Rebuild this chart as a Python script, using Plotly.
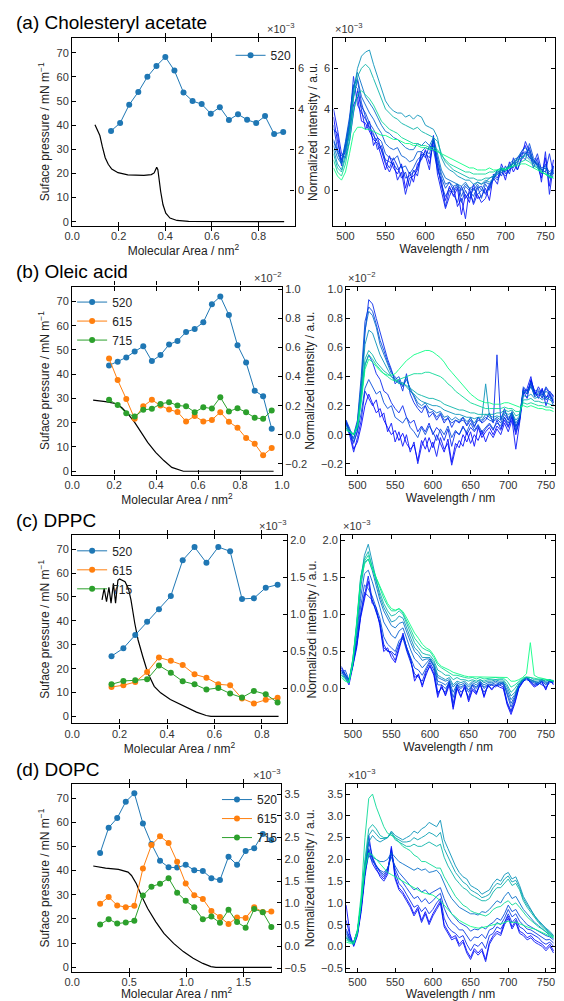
import plotly.graph_objects as go

# ---------------- data ----------------
# (a) Cholesteryl acetate
A_AREA = [0.167, 0.206, 0.245, 0.284, 0.323, 0.362, 0.400, 0.439, 0.478, 0.517,
          0.556, 0.595, 0.634, 0.673, 0.712, 0.751, 0.790, 0.828, 0.867, 0.906]
A_520 = [2.92, 3.31, 4.21, 4.84, 5.58, 6.12, 6.56, 5.89, 4.81, 4.39,
         4.24, 3.77, 4.09, 3.46, 3.74, 3.47, 3.31, 3.65, 2.77, 2.87]
ISO_A_AREA = [0.098, 0.11, 0.119, 0.13, 0.142, 0.155, 0.17, 0.197, 0.239, 0.308, 0.34, 0.352,
              0.358, 0.363, 0.368, 0.373, 0.38, 0.39, 0.402, 0.42, 0.45, 0.5, 0.6, 0.91]
ISO_A_PI = [40.2, 37.5, 35.7, 31.0, 26.5, 23.8, 21.8, 20.3, 19.4, 19.2, 19.5, 20.2,
            21.5, 22.6, 21.5, 17.5, 12.5, 7.0, 3.5, 1.5, 0.5, 0.1, 0.0, 0.0]

# (b) Oleic acid
B_AREA = [0.176, 0.217, 0.258, 0.298, 0.339, 0.380, 0.421, 0.462, 0.502, 0.543,
          0.584, 0.625, 0.666, 0.706, 0.747, 0.788, 0.829, 0.870, 0.910, 0.951]
B_520 = [0.477, 0.502, 0.532, 0.573, 0.609, 0.507, 0.548, 0.621, 0.646, 0.707,
         0.728, 0.774, 0.899, 0.952, 0.824, 0.616, 0.497, 0.303, 0.265, 0.041]
B_615 = [0.524, 0.376, 0.246, 0.109, 0.196, 0.240, 0.201, 0.173, 0.157, 0.091,
         0.128, 0.091, 0.102, 0.155, 0.089, 0.048, -0.023, -0.062, -0.142, -0.092]
B_715 = [0.240, 0.205, 0.148, 0.125, 0.171, 0.178, 0.212, 0.224, 0.201, 0.196,
         0.155, 0.189, 0.180, 0.258, 0.160, 0.182, 0.155, 0.116, 0.109, 0.166]
ISO_B_AREA = [0.1, 0.159, 0.205, 0.236, 0.267, 0.298, 0.329, 0.36, 0.398, 0.437, 0.475, 0.514, 0.53, 0.96]
ISO_B_PI = [29.3, 28.7, 27.9, 26.3, 23.5, 20.1, 16.0, 11.9, 7.8, 4.4, 1.6, 0.3, 0.0, 0.0]

# (c) DPPC
C_AREA = [0.166, 0.216, 0.266, 0.316, 0.366, 0.416, 0.466, 0.516, 0.566, 0.616,
          0.666, 0.716, 0.766, 0.816, 0.866]
C_520 = [0.438, 0.545, 0.724, 0.903, 1.072, 1.251, 1.734, 1.912, 1.698, 1.912,
         1.854, 1.211, 1.220, 1.363, 1.403]
C_615 = [0.022, 0.045, 0.089, 0.223, 0.420, 0.375, 0.317, 0.192, 0.147, 0.058,
         0.045, -0.134, -0.201, -0.152, -0.125]
C_715 = [0.058, 0.103, 0.112, 0.125, 0.313, 0.214, 0.098, 0.058, -0.013, 0.009,
         -0.067, -0.121, -0.031, -0.076, -0.188]
ISO_C_AREA = [0.126, 0.135, 0.145, 0.155, 0.164, 0.174, 0.183, 0.193, 0.2, 0.223, 0.237, 0.248,
              0.264, 0.278, 0.298, 0.319, 0.346, 0.373, 0.414, 0.469, 0.524, 0.565, 0.585, 0.87]
ISO_C_PI = [48.8, 53.6, 48.0, 54.0, 47.4, 55.7, 47.4, 57.0, 57.5, 56.4, 53.6, 48.8,
            39.0, 32.0, 25.0, 18.2, 12.6, 9.9, 7.1, 4.3, 1.8, 0.4, 0.0, 0.0]

# (d) DOPC
D_AREA = [0.245, 0.32, 0.395, 0.47, 0.545, 0.62, 0.695, 0.77, 0.845, 0.92, 0.995,
          1.07, 1.145, 1.22, 1.295, 1.37, 1.445, 1.52, 1.595, 1.67, 1.745]
D_520 = [2.145, 2.728, 2.949, 3.326, 3.520, 2.827, 2.356, 1.968, 1.818, 1.812, 1.874,
         1.752, 1.735, 1.569, 1.524, 2.062, 1.874, 2.195, 2.256, 2.583, 2.445]
D_615 = [0.981, 1.136, 0.942, 0.903, 0.937, 1.790, 2.328, 2.533, 2.378, 1.946, 1.447,
         1.175, 1.092, 0.815, 0.676, 0.515, 0.665, 0.654, 0.898, 0.792, 0.803]
D_715 = [0.504, 0.626, 0.526, 0.549, 0.593, 1.170, 1.374, 1.441, 1.569, 1.236, 1.047,
         0.898, 0.626, 0.687, 0.543, 0.842, 0.560, 0.432, 0.859, 0.787, 0.449]
ISO_D_AREA = [0.185, 0.293, 0.406, 0.49, 0.52, 0.563, 0.605, 0.662, 0.733, 0.804, 0.889,
              0.974, 1.06, 1.145, 1.216, 1.26, 1.75]
ISO_D_PI = [41.9, 41.0, 40.5, 39.4, 38.0, 34.6, 29.8, 24.3, 18.8, 14.0, 9.9,
            6.5, 3.7, 1.6, 0.3, 0.0, 0.0]

# spectra: wavelength grid (nm)
WL = [485, 490, 495, 500, 505, 510, 515, 520, 525, 530,
      535, 540, 545, 550, 555, 560, 565, 570, 575, 580,
      585, 590, 595, 600, 605, 610, 615, 620, 625, 630,
      635, 640, 645, 650, 655, 660, 665, 670, 675, 680,
      685, 690, 695, 700, 705, 710, 715, 720, 725, 730,
      735, 740, 745, 750, 755, 760]

# colour position of each spectrum on the blue->green scale, per panel
SPEC_A_T = [0.0, 0.14, 0.28, 0.42, 0.56, 0.7, 0.85, 1.0, 0.07, 0.21, 0.35]
SPEC_B_T = [0.0, 0.14, 0.28, 0.42, 0.56, 0.7, 0.85, 1.0, 0.05, 0.25, 0.12]
SPEC_C_T = [0.0, 0.14, 0.28, 0.42, 0.56, 0.7, 0.85, 1.0, 0.07, 0.36]
SPEC_D_T = [0.0, 0.14, 0.28, 0.42, 0.56, 0.7, 0.85, 1.0, 0.07, 0.22, 0.62]

SPEC_A = [
    [3.6, 2.4, 1.5, 1.9, 2.8, 4.2, 4.6, 3.4, 3.3, 2.9,
     2.5, 2.3, 1.6, 1.0, 1.7, 1.1, 0.8, 1.3, 0.1, 0.9,
     0.4, 1.3, 1.5, 2.0, 1.3, 2.4, 1.3, 0.2, -0.5, 0.2,
     -0.3, 0.1, -1.2, -0.2, -0.6, 0.3, -0.4, -0.3, 0.1, -0.5,
     0.8, 0.6, 1.1, 0.5, 1.4, 0.9, 1.3, 1.9, 2.2, 1.6,
     1.5, 1.2, 0.6, 1.6, 0.2, 1.5],
    [3.0, 2.8, 1.2, 2.2, 3.2, 5.6, 4.2, 3.8, 3.5, 3.1,
     2.8, 2.0, 2.2, 1.4, 1.1, 1.6, 1.2, 0.6, 0.9, 0.2,
     1.0, 0.7, 1.8, 1.6, 2.2, 2.0, 1.0, 0.5, -0.8, 0.0,
     -0.2, -0.6, 0.2, -0.4, -0.1, -0.6, 0.1, 0.2, -0.2, 0.3,
     0.5, 1.0, 0.7, 1.2, 0.8, 1.6, 1.0, 1.5, 1.8, 2.1,
     1.3, 1.8, 1.0, 0.9, 1.8, 0.8],
    [2.5, 1.9, 1.4, 2.4, 3.6, 5.2, 5.0, 4.1, 3.8, 3.3,
     3.0, 2.6, 2.4, 1.8, 1.6, 1.5, 1.7, 1.1, 1.2, 0.8,
     1.1, 1.5, 1.7, 1.9, 1.8, 2.5, 1.5, 0.6, 0.1, 0.4,
     0.0, 0.3, -0.3, 0.2, 0.0, -0.3, 0.2, -0.4, 0.3, 0.0,
     0.6, 0.8, 1.0, 0.9, 1.2, 1.1, 1.6, 1.7, 1.5, 2.3,
     1.6, 1.4, 1.1, 1.2, 0.9, 1.1],
    [2.2, 1.6, 1.3, 2.2, 3.3, 5.0, 5.8, 5.2, 4.6, 4.3,
     4.0, 3.6, 3.2, 2.9, 2.8, 2.6, 2.5, 2.3, 2.1, 2.0,
     2.0, 2.3, 2.2, 2.4, 2.2, 2.6, 1.8, 1.0, 0.6, 0.5,
     0.4, 0.3, 0.2, 0.4, 0.1, 0.2, 0.4, 0.3, 0.4, 0.6,
     0.7, 1.0, 1.1, 1.0, 1.3, 1.5, 1.6, 1.9, 2.1, 1.8,
     1.5, 1.3, 1.0, 1.1, 0.8, 0.9],
    [2.0, 1.3, 1.0, 1.8, 3.0, 4.8, 6.0, 6.6, 6.8, 6.9,
     6.2, 5.6, 5.0, 4.4, 4.1, 3.9, 3.8, 3.8, 3.6, 3.7,
     3.5, 3.7, 3.6, 3.2, 3.1, 3.0, 2.6, 1.6, 1.2, 1.0,
     0.9, 0.7, 0.6, 0.5, 0.5, 0.3, 0.4, 0.3, 0.5, 0.4,
     0.6, 0.8, 0.9, 1.0, 1.1, 1.4, 1.5, 1.6, 1.8, 1.7,
     1.4, 1.2, 1.0, 0.9, 0.7, 0.8],
    [1.8, 1.1, 0.9, 1.6, 2.8, 4.5, 5.6, 6.0, 6.2, 6.0,
     5.5, 5.0, 4.4, 4.0, 3.8, 3.6, 3.5, 3.3, 3.2, 3.1,
     3.0, 3.1, 2.9, 2.8, 2.7, 2.6, 2.4, 1.8, 1.4, 1.2,
     1.0, 0.9, 0.8, 0.7, 0.6, 0.6, 0.5, 0.5, 0.6, 0.6,
     0.7, 0.9, 1.0, 1.0, 1.2, 1.3, 1.4, 1.6, 1.7, 1.5,
     1.3, 1.1, 0.9, 0.8, 0.6, 0.7],
    [1.5, 0.9, 0.7, 1.3, 2.4, 3.9, 4.7, 4.9, 4.7, 4.5,
     4.2, 3.8, 3.4, 3.2, 3.0, 2.9, 2.8, 2.6, 2.5, 2.4,
     2.3, 2.3, 2.2, 2.2, 2.1, 2.1, 2.0, 1.7, 1.5, 1.3,
     1.2, 1.1, 1.0, 0.9, 0.9, 0.8, 0.8, 0.8, 0.8, 0.9,
     0.9, 1.0, 1.0, 1.1, 1.1, 1.2, 1.3, 1.4, 1.5, 1.4,
     1.2, 1.1, 0.9, 0.8, 0.7, 0.6],
    [1.1, 0.7, 0.5, 0.9, 1.8, 2.8, 3.1, 3.1, 3.0, 3.0,
     2.9, 2.8, 2.7, 2.7, 2.6, 2.5, 2.5, 2.4, 2.3, 2.3,
     2.2, 2.2, 2.1, 2.1, 2.0, 2.0, 1.9, 1.8, 1.7, 1.6,
     1.5, 1.4, 1.3, 1.2, 1.1, 1.1, 1.0, 1.0, 1.0, 1.1,
     1.0, 1.0, 1.1, 1.0, 1.1, 1.2, 1.2, 1.3, 1.3, 1.2,
     1.1, 1.0, 0.9, 0.8, 0.7, 0.6],
    [4.0, 3.0, 1.8, 1.6, 2.4, 3.8, 4.9, 4.0, 3.0, 3.4,
     2.2, 2.6, 1.9, 1.3, 0.9, 1.4, 0.5, 0.9, -0.2, 0.6,
     0.7, 1.0, 1.9, 1.7, 1.0, 2.7, 0.8, -0.1, -0.9, -0.3,
     0.2, -0.8, -0.4, -1.4, 0.1, -0.7, -0.2, -0.6, -0.4, 0.2,
     0.6, 0.3, 1.3, 0.8, 1.0, 1.4, 1.0, 1.6, 2.4, 1.9,
     1.1, 1.6, 0.4, 1.9, -0.2, 1.2],
    [3.2, 2.0, 1.7, 2.0, 3.0, 4.6, 5.4, 4.3, 3.6, 3.0,
     2.7, 2.4, 2.0, 1.5, 1.4, 1.3, 1.0, 1.2, 0.6, 0.7,
     0.9, 1.1, 1.6, 1.8, 1.6, 2.2, 1.2, 0.3, -0.3, 0.1,
     -0.1, 0.2, -0.6, 0.0, -0.4, 0.1, -0.2, 0.0, -0.1, 0.1,
     0.7, 0.5, 0.9, 0.7, 1.0, 1.2, 1.4, 1.8, 1.9, 1.6,
     1.4, 1.3, 0.8, 1.3, 0.6, 1.2],
    [2.4, 1.8, 1.3, 2.3, 3.4, 5.1, 5.5, 4.6, 4.2, 3.8,
     3.5, 3.1, 2.8, 2.3, 2.1, 2.0, 2.1, 1.7, 1.6, 1.4,
     1.5, 1.9, 1.9, 2.1, 2.0, 2.5, 1.6, 0.8, 0.3, 0.4,
     0.2, 0.3, 0.0, 0.3, 0.1, 0.0, 0.3, 0.0, 0.4, 0.3,
     0.6, 0.9, 1.0, 1.0, 1.2, 1.3, 1.6, 1.8, 1.8, 2.0,
     1.5, 1.3, 1.0, 1.1, 0.8, 1.0],
]

SPEC_B = [
    [0.08, 0.02, -0.10, -0.05, 0.06, 0.20, 0.28, 0.22, 0.15, 0.18,
     0.10, 0.05, 0.00, 0.03, -0.04, 0.01, -0.06, -0.10, -0.07, -0.18,
     -0.04, -0.10, -0.02, -0.09, 0.00, -0.06, -0.12, -0.03, -0.19, -0.06,
     -0.09, 0.00, -0.05, 0.02, -0.08, 0.05, -0.02, 0.02, 0.05, 0.00,
     0.06, 0.03, 0.10, 0.05, 0.12, 0.00, 0.10, 0.30, 0.25, 0.38,
     0.30, 0.25, 0.32, 0.20, 0.28, 0.22],
    [0.05, 0.00, -0.02, 0.05, 0.30, 0.70, 0.93, 0.90, 0.80, 0.70,
     0.60, 0.52, 0.45, 0.35, 0.38, 0.30, 0.42, 0.28, 0.22, 0.18,
     0.15, 0.20, 0.12, 0.15, 0.10, 0.14, 0.08, 0.12, 0.05, 0.10,
     0.08, 0.12, 0.06, 0.10, 0.05, 0.12, 0.08, 0.10, 0.15, 0.08,
     0.55, 0.10, 0.18, 0.10, 0.15, 0.05, 0.12, 0.32, 0.30, 0.35,
     0.28, 0.30, 0.25, 0.32, 0.28, 0.25],
    [0.10, 0.04, -0.05, 0.02, 0.15, 0.32, 0.38, 0.33, 0.28, 0.30,
     0.22, 0.18, 0.20, 0.12, 0.10, 0.08, 0.12, 0.05, 0.02, -0.02,
     0.05, 0.00, 0.06, 0.02, -0.04, 0.04, 0.00, 0.06, -0.02, 0.03,
     0.00, 0.05, 0.02, 0.08, 0.03, 0.07, 0.02, 0.05, 0.08, 0.04,
     0.08, 0.06, 0.12, 0.08, 0.14, 0.03, 0.12, 0.30, 0.28, 0.34,
     0.26, 0.28, 0.30, 0.24, 0.26, 0.20],
    [0.07, 0.02, -0.03, 0.08, 0.35, 0.72, 0.85, 0.82, 0.74, 0.62,
     0.55, 0.48, 0.42, 0.40, 0.36, 0.34, 0.40, 0.30, 0.27, 0.22,
     0.20, 0.22, 0.18, 0.17, 0.15, 0.16, 0.12, 0.13, 0.10, 0.12,
     0.10, 0.12, 0.09, 0.11, 0.08, 0.12, 0.10, 0.14, 0.12, 0.10,
     0.12, 0.10, 0.16, 0.12, 0.14, 0.08, 0.12, 0.30, 0.28, 0.33,
     0.27, 0.29, 0.26, 0.30, 0.27, 0.24],
    [0.06, 0.03, 0.00, 0.08, 0.32, 0.62, 0.72, 0.70, 0.62, 0.55,
     0.50, 0.45, 0.40, 0.38, 0.35, 0.36, 0.33, 0.30, 0.28, 0.25,
     0.23, 0.22, 0.21, 0.20, 0.20, 0.19, 0.17, 0.16, 0.15, 0.14,
     0.14, 0.13, 0.12, 0.12, 0.11, 0.12, 0.12, 0.35, 0.13, 0.12,
     0.13, 0.12, 0.15, 0.14, 0.15, 0.10, 0.13, 0.27, 0.26, 0.28,
     0.25, 0.26, 0.24, 0.26, 0.24, 0.22],
    [0.05, 0.02, 0.00, 0.07, 0.28, 0.52, 0.58, 0.55, 0.50, 0.47,
     0.44, 0.42, 0.40, 0.37, 0.36, 0.35, 0.34, 0.32, 0.30, 0.28,
     0.27, 0.26, 0.25, 0.25, 0.24, 0.23, 0.21, 0.20, 0.19, 0.18,
     0.17, 0.17, 0.16, 0.15, 0.15, 0.14, 0.14, 0.14, 0.14, 0.14,
     0.15, 0.15, 0.17, 0.16, 0.17, 0.13, 0.14, 0.24, 0.24, 0.25,
     0.23, 0.23, 0.22, 0.22, 0.21, 0.20],
    [0.04, 0.02, 0.00, 0.06, 0.25, 0.48, 0.55, 0.52, 0.48, 0.45,
     0.42, 0.40, 0.38, 0.37, 0.38, 0.39, 0.40, 0.41, 0.42, 0.42,
     0.42, 0.43, 0.43, 0.42, 0.41, 0.40, 0.38, 0.35, 0.33, 0.30,
     0.28, 0.26, 0.24, 0.22, 0.21, 0.20, 0.19, 0.18, 0.18, 0.18,
     0.18, 0.18, 0.19, 0.18, 0.18, 0.16, 0.16, 0.22, 0.21, 0.22,
     0.21, 0.20, 0.20, 0.19, 0.19, 0.18],
    [0.03, 0.02, 0.00, 0.05, 0.22, 0.45, 0.52, 0.50, 0.47, 0.44,
     0.42, 0.41, 0.41, 0.42, 0.45, 0.48, 0.51, 0.53, 0.55, 0.56,
     0.57, 0.58, 0.58, 0.57, 0.55, 0.53, 0.50, 0.46, 0.43, 0.40,
     0.37, 0.34, 0.31, 0.28, 0.26, 0.24, 0.23, 0.22, 0.22, 0.21,
     0.21, 0.21, 0.22, 0.22, 0.21, 0.20, 0.19, 0.20, 0.19, 0.20,
     0.19, 0.18, 0.18, 0.17, 0.17, 0.16],
    [0.10, 0.00, -0.12, -0.02, 0.10, 0.30, 0.25, 0.20, 0.24, 0.12,
     0.15, 0.02, 0.08, -0.05, 0.02, -0.08, 0.00, -0.12, -0.05, -0.20,
     -0.08, -0.02, -0.12, -0.05, -0.15, -0.02, -0.10, -0.06, -0.21, -0.10,
     -0.04, -0.08, 0.02, -0.06, 0.00, -0.04, 0.03, -0.05, 0.02, -0.02,
     0.04, 0.00, 0.08, 0.02, 0.10, -0.10, 0.08, 0.28, 0.32, 0.40,
     0.27, 0.33, 0.28, 0.25, 0.30, 0.26],
    [0.09, 0.03, 0.00, 0.10, 0.40, 0.78, 0.88, 0.85, 0.76, 0.65,
     0.58, 0.50, 0.44, 0.38, 0.40, 0.33, 0.38, 0.32, 0.25, 0.20,
     0.18, 0.20, 0.15, 0.16, 0.12, 0.15, 0.10, 0.11, 0.08, 0.10,
     0.09, 0.10, 0.07, 0.12, 0.06, 0.10, 0.09, 0.12, 0.10, 0.09,
     0.11, 0.08, 0.14, 0.10, 0.16, 0.06, 0.11, 0.33, 0.30, 0.36,
     0.30, 0.31, 0.27, 0.33, 0.29, 0.27],
    [0.08, 0.01, -0.06, 0.03, 0.25, 0.48, 0.55, 0.50, 0.42, 0.38,
     0.30, 0.28, 0.22, 0.18, 0.15, 0.20, 0.12, 0.08, 0.10, 0.02,
     0.06, 0.02, 0.08, 0.00, 0.05, 0.02, -0.04, 0.04, -0.08, 0.02,
     0.00, 0.06, 0.00, 0.05, 0.02, 0.06, 0.00, 0.04, 0.07, 0.03,
     0.10, 0.04, 0.12, 0.06, 0.13, 0.02, 0.10, 0.31, 0.29, 0.37,
     0.29, 0.27, 0.31, 0.26, 0.27, 0.23],
]

SPEC_C = [
    [0.25, 0.15, 0.05, 0.30, 0.55, 0.95, 1.20, 1.45, 1.15, 1.10,
     0.85, 0.50, 0.55, 0.42, 0.35, 0.55, 0.72, 0.55, 0.40, 0.10,
     0.20, 0.02, 0.22, 0.30, 0.18, -0.12, 0.05, -0.10, 0.05, -0.28,
     0.00, -0.12, 0.05, -0.18, -0.02, -0.08, 0.08, -0.12, 0.05, -0.02,
     0.05, 0.02, 0.00, -0.22, -0.35, -0.20, 0.00, 0.08, 0.15, 0.08,
     0.02, 0.05, 0.10, -0.02, 0.12, 0.05],
    [0.30, 0.20, 0.10, 0.35, 0.60, 1.00, 1.30, 1.25, 1.20, 1.05,
     0.90, 0.60, 0.50, 0.50, 0.45, 0.60, 0.68, 0.50, 0.35, 0.20,
     0.15, 0.10, 0.25, 0.35, 0.25, -0.05, 0.00, -0.05, 0.10, -0.20,
     0.05, -0.05, 0.00, -0.12, 0.05, -0.05, 0.05, -0.05, 0.02, 0.05,
     0.02, 0.08, 0.05, -0.18, -0.30, -0.15, 0.02, 0.10, 0.12, 0.10,
     0.05, 0.08, 0.05, 0.02, 0.08, 0.10],
    [0.20, 0.25, 0.12, 0.30, 0.65, 1.10, 1.40, 1.35, 1.25, 1.10,
     0.95, 0.70, 0.60, 0.55, 0.50, 0.65, 0.70, 0.55, 0.42, 0.28,
     0.25, 0.18, 0.28, 0.38, 0.30, 0.05, 0.05, 0.00, 0.08, -0.12,
     0.05, 0.00, 0.05, -0.05, 0.05, 0.00, 0.08, 0.00, 0.05, 0.05,
     0.05, 0.05, 0.08, -0.10, -0.25, -0.12, 0.05, 0.12, 0.15, 0.10,
     0.08, 0.05, 0.10, 0.05, 0.10, 0.08],
    [0.22, 0.18, 0.12, 0.35, 0.80, 1.35, 1.70, 1.75, 1.60, 1.40,
     1.20, 1.05, 0.95, 0.85, 0.82, 0.88, 0.90, 0.75, 0.62, 0.50,
     0.45, 0.38, 0.40, 0.40, 0.32, 0.15, 0.12, 0.10, 0.12, 0.02,
     0.08, 0.05, 0.08, 0.02, 0.08, 0.05, 0.10, 0.05, 0.08, 0.08,
     0.10, 0.08, 0.08, -0.02, -0.15, -0.08, 0.05, 0.10, 0.15, 0.12,
     0.10, 0.08, 0.12, 0.08, 0.10, 0.10],
    [0.20, 0.15, 0.10, 0.40, 0.85, 1.45, 1.80, 1.95, 1.70, 1.45,
     1.25, 1.10, 1.00, 0.90, 0.92, 0.98, 0.95, 0.80, 0.68, 0.55,
     0.50, 0.42, 0.42, 0.42, 0.35, 0.18, 0.15, 0.12, 0.15, 0.05,
     0.10, 0.08, 0.10, 0.05, 0.10, 0.08, 0.12, 0.08, 0.10, 0.10,
     0.12, 0.10, 0.10, 0.02, -0.10, -0.05, 0.05, 0.12, 0.15, 0.12,
     0.10, 0.10, 0.12, 0.10, 0.12, 0.10],
    [0.18, 0.15, 0.10, 0.40, 0.90, 1.50, 1.75, 1.85, 1.65, 1.45,
     1.30, 1.15, 1.05, 0.98, 1.00, 1.05, 1.00, 0.88, 0.75, 0.62,
     0.55, 0.48, 0.46, 0.45, 0.38, 0.25, 0.22, 0.18, 0.18, 0.12,
     0.15, 0.12, 0.12, 0.10, 0.12, 0.10, 0.12, 0.10, 0.12, 0.12,
     0.12, 0.12, 0.12, 0.05, -0.05, 0.00, 0.08, 0.12, 0.15, 0.15,
     0.12, 0.12, 0.12, 0.10, 0.12, 0.10],
    [0.18, 0.12, 0.08, 0.38, 0.88, 1.48, 1.72, 1.80, 1.65, 1.50,
     1.35, 1.22, 1.12, 1.05, 1.05, 1.08, 1.02, 0.92, 0.80, 0.68,
     0.62, 0.55, 0.52, 0.50, 0.42, 0.32, 0.28, 0.25, 0.22, 0.18,
     0.18, 0.16, 0.15, 0.14, 0.15, 0.13, 0.15, 0.13, 0.14, 0.14,
     0.15, 0.14, 0.14, 0.10, 0.02, 0.05, 0.10, 0.14, 0.16, 0.15,
     0.13, 0.13, 0.13, 0.12, 0.12, 0.11],
    [0.15, 0.10, 0.08, 0.35, 0.85, 1.42, 1.68, 1.75, 1.62, 1.50,
     1.38, 1.25, 1.15, 1.08, 1.06, 1.08, 1.04, 0.95, 0.85, 0.75,
     0.68, 0.60, 0.55, 0.52, 0.45, 0.35, 0.30, 0.28, 0.25, 0.22,
     0.20, 0.18, 0.17, 0.16, 0.16, 0.15, 0.16, 0.15, 0.16, 0.15,
     0.16, 0.15, 0.15, 0.15, 0.10, 0.10, 0.12, 0.15, 0.20, 0.62,
     0.18, 0.15, 0.14, 0.13, 0.12, 0.10],
    [0.28, 0.18, 0.08, 0.32, 0.58, 0.98, 1.25, 1.52, 1.20, 1.05,
     0.88, 0.55, 0.52, 0.48, 0.38, 0.58, 0.75, 0.52, 0.38, 0.15,
     0.18, 0.05, 0.20, 0.32, 0.20, -0.08, 0.02, -0.08, 0.08, -0.25,
     0.02, -0.10, 0.02, -0.15, 0.00, -0.06, 0.06, -0.10, 0.04, 0.00,
     0.04, 0.05, 0.02, -0.20, -0.32, -0.18, 0.01, 0.09, 0.14, 0.09,
     0.04, 0.06, 0.08, 0.00, 0.10, 0.07],
    [0.24, 0.20, 0.12, 0.32, 0.72, 1.22, 1.55, 1.60, 1.45, 1.28,
     1.10, 0.90, 0.80, 0.72, 0.68, 0.78, 0.82, 0.66, 0.52, 0.40,
     0.35, 0.28, 0.34, 0.40, 0.30, 0.10, 0.08, 0.05, 0.10, -0.05,
     0.06, 0.02, 0.06, -0.02, 0.06, 0.02, 0.09, 0.02, 0.06, 0.06,
     0.08, 0.06, 0.08, -0.06, -0.20, -0.10, 0.05, 0.11, 0.15, 0.11,
     0.09, 0.07, 0.11, 0.06, 0.10, 0.09],
]

SPEC_D = [
    [0.95, 0.30, 0.00, 0.25, 0.80, 1.60, 2.20, 1.90, 1.75, 1.65,
     1.55, 1.70, 2.30, 1.60, 1.35, 1.25, 1.10, 0.95, 0.75, 0.90,
     0.60, 0.80, 0.55, 0.75, 0.90, 1.05, 0.50, 0.35, 0.20, 0.25,
     0.05, 0.15, -0.10, -0.25, -0.05, -0.15, -0.05, -0.30, 0.10, 0.25,
     0.35, 0.30, 0.55, 0.70, 0.45, 0.60, 0.35, 0.30, 0.20, 0.25,
     0.15, 0.10, 0.05, -0.05, 0.05, -0.10],
    [0.40, 0.20, 0.05, 0.30, 0.90, 1.75, 2.40, 2.05, 1.85, 1.70,
     1.60, 1.75, 2.20, 1.70, 1.45, 1.35, 1.20, 1.05, 0.90, 0.95,
     0.80, 0.90, 0.75, 0.85, 1.00, 1.10, 0.65, 0.45, 0.35, 0.30,
     0.20, 0.25, 0.05, -0.10, 0.05, 0.00, 0.10, -0.05, 0.25, 0.30,
     0.45, 0.40, 0.55, 0.75, 0.55, 0.65, 0.45, 0.40, 0.30, 0.30,
     0.25, 0.20, 0.10, 0.05, 0.10, 0.00],
    [0.30, 0.15, 0.10, 0.35, 0.95, 1.70, 2.10, 1.95, 1.85, 1.75,
     1.70, 1.80, 2.05, 1.85, 1.70, 1.60, 1.50, 1.40, 1.30, 1.35,
     1.25, 1.30, 1.20, 1.25, 1.30, 1.35, 1.10, 0.90, 0.75, 0.65,
     0.55, 0.50, 0.45, 0.35, 0.40, 0.38, 0.45, 0.40, 0.50, 0.55,
     0.65, 0.60, 0.75, 0.95, 0.80, 0.85, 0.70, 0.60, 0.50, 0.45,
     0.40, 0.35, 0.30, 0.25, 0.22, 0.15],
    [0.25, 0.15, 0.10, 0.35, 0.95, 1.75, 2.15, 2.05, 2.00, 1.95,
     1.95, 2.00, 2.15, 2.05, 1.95, 1.90, 1.85, 1.80, 1.75, 1.80,
     1.75, 1.78, 1.70, 1.72, 1.75, 1.65, 1.45, 1.25, 1.10, 1.00,
     0.90, 0.85, 0.80, 0.75, 0.75, 0.72, 0.80, 0.78, 0.85, 0.95,
     1.05, 1.00, 1.15, 1.25, 1.10, 1.15, 1.00, 0.85, 0.75, 0.65,
     0.55, 0.48, 0.40, 0.32, 0.25, 0.18],
    [0.20, 0.12, 0.10, 0.35, 1.00, 1.85, 2.40, 2.55, 2.45, 2.40,
     2.45, 2.50, 2.65, 2.55, 2.50, 2.45, 2.50, 2.55, 2.65, 2.60,
     2.70, 2.75, 2.85, 2.80, 2.75, 2.90, 2.45, 2.25, 2.05, 1.85,
     1.70, 1.60, 1.55, 1.40, 1.35, 1.30, 1.20, 1.25, 1.30, 1.45,
     1.55, 1.50, 1.65, 1.70, 1.55, 1.60, 1.40, 1.15, 1.00, 0.85,
     0.70, 0.60, 0.50, 0.42, 0.35, 0.25],
    [0.20, 0.12, 0.08, 0.35, 1.05, 2.00, 2.70, 2.80, 2.70, 2.55,
     2.50, 2.50, 2.60, 2.45, 2.40, 2.35, 2.30, 2.30, 2.35, 2.30,
     2.30, 2.35, 2.40, 2.35, 2.30, 2.35, 2.05, 1.85, 1.70, 1.55,
     1.45, 1.35, 1.30, 1.20, 1.15, 1.10, 1.05, 1.05, 1.10, 1.25,
     1.35, 1.35, 1.45, 1.55, 1.40, 1.45, 1.30, 1.05, 0.90, 0.78,
     0.65, 0.55, 0.45, 0.38, 0.30, 0.22],
    [0.15, 0.10, 0.08, 0.40, 1.20, 2.50, 3.40, 3.50, 3.20, 2.95,
     2.75, 2.60, 2.55, 2.50, 2.40, 2.30, 2.25, 2.20, 2.10, 2.05,
     1.95, 1.95, 1.90, 1.85, 1.80, 1.80, 1.60, 1.45, 1.30, 1.15,
     1.05, 0.95, 0.90, 0.82, 0.78, 0.75, 0.72, 0.70, 0.75, 0.85,
     0.90, 0.92, 1.00, 1.05, 0.95, 1.00, 0.90, 0.78, 0.68, 0.60,
     0.52, 0.45, 0.40, 0.35, 0.28, 0.22],
    [0.10, 0.08, 0.05, 0.30, 1.00, 1.80, 2.15, 2.10, 2.00, 1.90,
     1.80, 1.70, 1.65, 1.60, 1.55, 1.50, 1.45, 1.40, 1.35, 1.30,
     1.25, 1.22, 1.20, 1.18, 1.12, 1.05, 0.95, 0.85, 0.75, 0.68,
     0.60, 0.55, 0.50, 0.46, 0.44, 0.42, 0.43, 0.45, 0.48, 0.50,
     0.52, 0.52, 0.55, 0.58, 0.55, 0.56, 0.52, 0.48, 0.45, 0.42,
     0.40, 0.36, 0.32, 0.28, 0.24, 0.20],
    [0.60, 0.25, 0.02, 0.28, 0.85, 1.65, 2.55, 2.00, 1.80, 1.60,
     1.50, 1.65, 2.25, 1.55, 1.30, 1.20, 1.05, 0.90, 0.70, 0.85,
     0.55, 0.75, 0.50, 0.70, 0.85, 1.00, 0.45, 0.30, 0.15, 0.20,
     0.00, 0.10, -0.15, -0.30, -0.10, -0.20, -0.10, -0.35, 0.05, 0.20,
     0.30, 0.25, 0.50, 0.65, 0.40, 0.55, 0.30, 0.25, 0.15, 0.20,
     0.10, 0.05, 0.00, -0.10, 0.00, -0.15],
    [0.35, 0.18, 0.08, 0.32, 0.92, 1.72, 2.25, 2.00, 1.85, 1.72,
     1.65, 1.78, 2.12, 1.78, 1.58, 1.48, 1.35, 1.22, 1.10, 1.15,
     1.02, 1.10, 0.98, 1.05, 1.15, 1.22, 0.88, 0.68, 0.55, 0.48,
     0.38, 0.38, 0.25, 0.12, 0.22, 0.20, 0.28, 0.18, 0.38, 0.42,
     0.55, 0.50, 0.65, 0.85, 0.68, 0.75, 0.58, 0.50, 0.40, 0.38,
     0.32, 0.28, 0.20, 0.15, 0.16, 0.08],
    [0.20, 0.12, 0.09, 0.35, 1.02, 1.92, 2.55, 2.68, 2.58, 2.48,
     2.48, 2.50, 2.62, 2.50, 2.45, 2.40, 2.40, 2.42, 2.50, 2.45,
     2.50, 2.55, 2.62, 2.58, 2.52, 2.62, 2.25, 2.05, 1.88, 1.70,
     1.58, 1.48, 1.42, 1.30, 1.25, 1.20, 1.12, 1.15, 1.20, 1.35,
     1.45, 1.42, 1.55, 1.62, 1.48, 1.52, 1.35, 1.10, 0.95, 0.82,
     0.68, 0.58, 0.48, 0.40, 0.32, 0.24],
]

TITLES = ["(a) Cholesteryl acetate", "(b) Oleic acid", "(c) DPPC", "(d) DOPC"]
EXPONENTS = ["−3", "−2", "−3", "−3"]
SERIES_NAMES = ["520", "615", "715"]

# ---------------- layout ----------------
W, H = 564, 1001
def fx(px):
    return px / W
def fy(py):
    return 1 - py / H

def winter(t):
    return "rgb(0,%d,%d)" % (round(255 * t), round(255 * (1 - 0.5 * t)))

SERIES_COLORS = ["#1f77b4", "#ff7f0e", "#2ca02c"]

ROWS = [
    dict(top=35, bot=224, lx=(66, 295), rx=(335, 563), xr=[0, 0.955], xt=[0, 0.2, 0.4, 0.6, 0.8],
         ly=[-1.75, 76.2], ry=[-1.75, 7.5], rt=[0, 2, 4, 6], rfmt="d",
         area=A_AREA, series=[A_520], iso=(ISO_A_AREA, ISO_A_PI), spec=SPEC_A, spec_t=SPEC_A_T,
         leg=dict(x=fx(297), y=fy(38), xanchor="right", yanchor="top")),
    dict(top=285, bot=474, lx=(66, 282), rx=(348, 563), xr=[0, 1.0], xt=[0, 0.2, 0.4, 0.6, 0.8, 1.0],
         ly=[-1.4, 76.1], ry=[-0.275, 1.02], rt=[-0.2, 0, 0.2, 0.4, 0.6, 0.8, 1.0], rfmt=".1f",
         area=B_AREA, series=[B_520, B_615, B_715], iso=(ISO_B_AREA, ISO_B_PI), spec=SPEC_B, spec_t=SPEC_B_T,
         leg=dict(x=fx(66), y=fy(286), xanchor="left", yanchor="top")),
    dict(top=535, bot=724, lx=(66, 287), rx=(343, 563), xr=[0, 0.905], xt=[0, 0.2, 0.4, 0.6, 0.8],
         ly=[-2.9, 75.8], ry=[-0.47, 2.07], rt=[0, 0.5, 1.0, 1.5, 2.0], rfmt=".1f",
         area=C_AREA, series=[C_520, C_615, C_715], iso=(ISO_C_AREA, ISO_C_PI), spec=SPEC_C, spec_t=SPEC_C_T,
         leg=dict(x=fx(66), y=fy(536), xanchor="left", yanchor="top")),
    dict(top=785, bot=974, lx=(66, 281), rx=(348, 563), xr=[0, 1.83], xt=[0, 0.5, 1.0, 1.5],
         ly=[-2.0, 75.8], ry=[-0.59, 3.73], rt=[-0.5, 0, 0.5, 1.0, 1.5, 2.0, 2.5, 3.0, 3.5], rfmt=".1f",
         area=D_AREA, series=[D_520, D_615, D_715], iso=(ISO_D_AREA, ISO_D_PI), spec=SPEC_D, spec_t=SPEC_D_T,
         leg=dict(x=fx(283), y=fy(786), xanchor="right", yanchor="top")),
]

FONT = "Liberation Sans, Arial, sans-serif"
TICKFONT = dict(family=FONT, size=11, color="#333")
TITLEFONT = dict(family=FONT, size=12, color="#222")
axis_common = dict(showline=True, linecolor="black", linewidth=1.3, ticks="inside", ticklen=4,
                   tickwidth=1, tickcolor="black", showgrid=False, zeroline=False, tickfont=TICKFONT)

def nm(kind, n):
    return kind + ("" if n == 1 else str(n))

fig = go.Figure()
layout = dict(width=W, height=H, margin=dict(l=0, r=0, t=0, b=0), paper_bgcolor="white",
              plot_bgcolor="rgba(0,0,0,0)", font=dict(family=FONT, size=11, color="#222"),
              showlegend=True)
annotations = []

for i, R in enumerate(ROWS):
    xl, yl, yl2 = 2 * i + 1, 3 * i + 1, 3 * i + 2
    xr_, yr_ = 2 * i + 2, 3 * i + 3
    ydom = [fy(R["bot"]), fy(R["top"])]
    legname = nm("legend", i + 1)

    layout[nm("xaxis", xl)] = dict(axis_common, domain=[fx(R["lx"][0]), fx(R["lx"][1])],
                                   anchor=nm("y", yl), range=R["xr"], tickvals=R["xt"], tickformat=".1f",
                                   mirror="allticks",
                                   title=dict(text="Molecular Area / nm<sup>2</sup>", font=TITLEFONT, standoff=2))
    layout[nm("yaxis", yl)] = dict(axis_common, domain=ydom, anchor=nm("x", xl), range=R["ly"],
                                   tickvals=[0, 10, 20, 30, 40, 50, 60, 70],
                                   title=dict(text="Suface pressure / mN m<sup>−1</sup>", font=TITLEFONT, standoff=4))
    layout[nm("yaxis", yl2)] = dict(axis_common, overlaying=nm("y", yl), side="right", anchor=nm("x", xl),
                                    range=R["ry"], tickvals=R["rt"], tickformat=R["rfmt"])
    layout[nm("xaxis", xr_)] = dict(axis_common, domain=[fx(R["rx"][0]), fx(R["rx"][1])],
                                    anchor=nm("y", yr_), range=[485, 762], tickvals=[500, 550, 600, 650, 700, 750],
                                    mirror="allticks",
                                    title=dict(text="Wavelength / nm", font=TITLEFONT, standoff=2))
    layout[nm("yaxis", yr_)] = dict(axis_common, domain=ydom, anchor=nm("x", xr_), range=R["ry"],
                                    tickvals=R["rt"], tickformat=R["rfmt"], mirror="allticks",
                                    title=dict(text="Normalized intensity / a.u.", font=TITLEFONT, standoff=3))
    layout[legname] = dict(R["leg"], bgcolor="rgba(0,0,0,0)", borderwidth=0,
                           font=dict(family=FONT, size=12, color="#222"), itemwidth=30, tracegroupgap=0)

    # isotherm
    fig.add_trace(go.Scatter(x=R["iso"][0], y=R["iso"][1], mode="lines",
                             line=dict(color="black", width=1.2), showlegend=False,
                             xaxis=nm("x", xl), yaxis=nm("y", yl)))
    # intensity series
    for s, vals in enumerate(R["series"]):
        fig.add_trace(go.Scatter(x=R["area"], y=vals, mode="lines+markers", name=SERIES_NAMES[s],
                                 line=dict(color=SERIES_COLORS[s], width=1),
                                 marker=dict(color=SERIES_COLORS[s], size=6),
                                 legend=legname, xaxis=nm("x", xl), yaxis=nm("y", yl2)))
    # spectra, drawn from blue to green
    order = sorted(range(len(R["spec"])), key=lambda k: R["spec_t"][k])
    for k in order:
        fig.add_trace(go.Scatter(x=WL, y=R["spec"][k], mode="lines", showlegend=False,
                                 line=dict(color=winter(R["spec_t"][k]), width=1), opacity=0.85,
                                 xaxis=nm("x", xr_), yaxis=nm("y", yr_)))

    annotations.append(dict(text=TITLES[i], x=fx(6), y=fy(R["top"] - 15), xref="paper", yref="paper",
                            xanchor="left", yanchor="middle", showarrow=False,
                            font=dict(family=FONT, size=19, color="black")))
    exp_txt = "×10<sup>" + EXPONENTS[i] + "</sup>"
    annotations.append(dict(text=exp_txt, x=fx(R["lx"][1] + 1), y=fy(R["top"] - 1), xref="paper", yref="paper",
                            xanchor="right", yanchor="bottom", showarrow=False,
                            font=dict(family=FONT, size=11, color="#333")))
    annotations.append(dict(text=exp_txt, x=fx(R["rx"][0]), y=fy(R["top"] - 1), xref="paper", yref="paper",
                            xanchor="left", yanchor="bottom", showarrow=False,
                            font=dict(family=FONT, size=11, color="#333")))

layout["annotations"] = annotations
fig.update_layout(**layout)
fig.write_html("out.html", config={"displayModeBar": False},
               post_script="document.body.style.margin='0';document.body.style.padding='0';"
                           "document.body.style.overflow='hidden';")
